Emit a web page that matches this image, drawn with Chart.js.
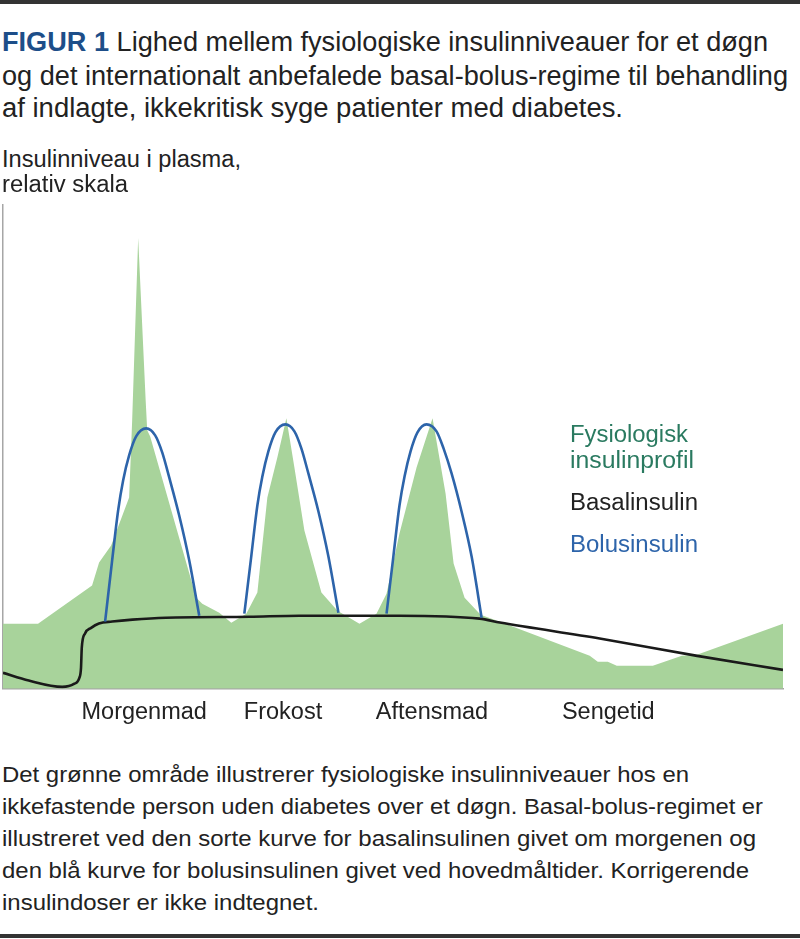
<!DOCTYPE html>
<html><head><meta charset="utf-8">
<script src="https://cdn.jsdelivr.net/npm/chart.js@4.4.1/dist/chart.umd.min.js"></script>
<style>
html,body{margin:0;padding:0;background:#fff;}
body{width:800px;height:939px;position:relative;overflow:hidden;font-family:"Liberation Sans",Arial,sans-serif;color:#222;}
.t{position:absolute;white-space:nowrap;line-height:1;transform-origin:0 0;}
.rule{position:absolute;left:0;width:800px;background:#333;}
#wrap{position:absolute;left:0;top:195px;width:800px;height:556px;}
</style></head>
<body>
<div class="rule" style="top:0;height:4px"></div>
<div class="rule" style="top:934px;height:4px"></div>
<div id="wrap"><canvas id="c"></canvas></div>
<script>
// ---- data (relative time 0-100, relative insulin level 0-100) ----
const greenX = [0, 4.49, 11.42, 12.32, 13.86, 15.40, 16.17, 16.56, 17.33, 18.29, 18.49, 18.87, 24.78, 25.55, 27.73, 29.27, 31.19, 32.61, 33.89, 35.17, 36.33, 37.36, 38.64, 40.82, 42.88, 45.70, 47.88, 49.17, 50.83, 53.02, 55.07, 56.74, 57.77, 59.18, 61.23, 64.06, 75.22, 76.25, 77.54, 78.69, 83.31, 87.03, 88.96, 100];
const greenY = [13.46, 13.46, 21.33, 26.09, 29.61, 36.23, 39.54, 55.49, 93.17, 59.63, 53.42, 52.17, 18.84, 17.60, 15.73, 13.66, 15.53, 19.88, 39.54, 47.83, 55.90, 45.76, 32.71, 19.88, 16.15, 13.46, 15.53, 19.67, 32.09, 45.76, 55.90, 40.37, 25.88, 18.84, 15.32, 13.66, 6.83, 5.59, 5.59, 4.76, 4.76, 6.83, 7.04, 13.46];

const basalX = [0, 3.3, 7.6, 9.1, 9.8, 10.0, 10.1, 10.5, 11.3, 12.3, 14.0, 16.6, 20.9, 31.6, 38.0, 50.8, 61.1, 63.7, 76.5, 89.0, 100];
const basalY = [3.3, 1.7, 0.4, 1.0, 2.3, 4.3, 8.5, 11.4, 12.6, 13.5, 13.9, 14.3, 14.7, 14.9, 15.1, 15.1, 14.5, 13.7, 10.4, 6.8, 3.9];

const bolus1X = [13.09, 13.99, 14.76, 15.40, 16.17, 17.07, 18.36, 19.51, 20.41, 21.31, 22.59, 23.88, 25.16];
const bolus1Y = [13.87, 26.50, 36.85, 43.06, 48.24, 52.17, 53.83, 52.38, 48.86, 43.69, 35.82, 26.50, 15.11];
const bolus2X = [30.94, 31.84, 32.61, 33.25, 34.02, 34.92, 36.20, 37.36, 38.25, 39.15, 40.44, 41.72, 43.00];
const bolus2Y = [15.53, 27.54, 37.89, 43.89, 49.07, 53.00, 54.66, 53.21, 49.69, 44.51, 36.65, 27.33, 15.73];
const bolus3X = [49.17, 50.06, 50.83, 51.48, 52.25, 53.14, 54.30, 55.58, 56.48, 57.51, 58.79, 60.08, 61.36];
const bolus3Y = [15.53, 27.54, 37.89, 43.89, 49.07, 53.00, 54.66, 53.21, 49.69, 44.51, 36.65, 27.33, 14.70];

const tickValues = [18.1, 35.9, 55.0, 77.6];
const tickLabels = ['Morgenmad', 'Frokost', 'Aftensmad', 'Sengetid'];

const seriesNames = ['Fysiologisk insulinprofil', 'Basalinsulin', 'Bolusinsulin'];

const zip = (xs, ys) => xs.map((x, i) => ({x: x, y: ys[i]}));

const GREEN = '#a8d39b', BLUE = '#2d64aa', BLACK = '#1a1a1a', AXIS = '#a6a6a6';
const FONT = '"Liberation Sans", Arial, sans-serif';

new Chart(document.getElementById('c'), {
  type: 'line',
  data: {
    datasets: [
      {label: seriesNames[2], data: zip(bolus1X, bolus1Y), borderColor: BLUE, borderWidth: 2.6, pointRadius: 0, fill: false, cubicInterpolationMode: 'monotone', order: 1},
      {label: seriesNames[2], data: zip(bolus2X, bolus2Y), borderColor: BLUE, borderWidth: 2.6, pointRadius: 0, fill: false, cubicInterpolationMode: 'monotone', order: 1},
      {label: seriesNames[2], data: zip(bolus3X, bolus3Y), borderColor: BLUE, borderWidth: 2.6, pointRadius: 0, fill: false, cubicInterpolationMode: 'monotone', order: 1},
      {label: seriesNames[1], data: zip(basalX, basalY), borderColor: BLACK, borderWidth: 2.6, pointRadius: 0, fill: false, cubicInterpolationMode: 'monotone', order: 2},
      {label: seriesNames[0], data: zip(greenX, greenY), borderWidth: 0, borderColor: GREEN, backgroundColor: GREEN, pointRadius: 0, fill: 'origin', tension: 0, order: 3}
    ]
  },
  options: {
    responsive: true,
    maintainAspectRatio: false,
    animation: false,
    events: [],
    layout: {padding: {left: 3, right: 17, top: 10, bottom: 14}},
    plugins: {legend: {display: false}, tooltip: {enabled: false}},
    scales: {
      x: {
        type: 'linear', min: 0, max: 100,
        afterBuildTicks: s => { s.ticks = tickValues.map(v => ({value: v})); },
        ticks: {autoSkip: false, maxRotation: 0, padding: 10, color: '#222',
          font: {family: FONT, size: 23.5},
          callback: (v) => tickLabels[tickValues.indexOf(v)]},
        grid: {display: false, drawTicks: false},
        border: {display: true, color: AXIS, width: 1.5}
      },
      y: {
        type: 'linear', min: 0, max: 100,
        ticks: {display: false},
        grid: {display: false, drawTicks: false},
        border: {display: true, color: AXIS, width: 1.5}
      }
    }
  }
});

// ---- text ----
function place(html, x, base, size, w, color) {
  const d = document.createElement('div');
  d.className = 't';
  d.style.left = x + 'px';
  d.style.top = (base - 0.8465 * size) + 'px';
  d.style.fontSize = size + 'px';
  if (color) d.style.color = color;
  d.innerHTML = html;
  document.body.appendChild(d);
  const nw = d.getBoundingClientRect().width;
  if (w) d.style.transform = 'scaleX(' + (w / nw) + ')';
}
const titleLines = [
  '<b style="color:#1d4e89">FIGUR 1</b> Lighed mellem fysiologiske insulinniveauer for et døgn',
  'og det internationalt anbefalede basal-bolus-regime til behandling',
  'af indlagte, ikkekritisk syge patienter med diabetes.'
];
const titleW = [766, 786, 621];
const titleBase = [52, 85.5, 118];
titleLines.forEach((t, i) => place(t, 2, titleBase[i], 27, titleW[i]));

const yTitle = ['Insulinniveau i plasma,', 'relativ skala'];
const yTitleW = [239, 126];
const yTitleBase = [167.5, 192.5];
yTitle.forEach((t, i) => place(t, 2, yTitleBase[i], 23.5, yTitleW[i]));

place('Fysiologisk', 570, 442.5, 23.5, 118, '#2a7a60');
place('insulinprofil', 570, 469, 23.5, 124, '#2a7a60');
place('Basalinsulin', 570, 511, 23.5, 128, '#222');
place('Bolusinsulin', 570, 553, 23.5, 128, BLUE);

const captionLines = [
  'Det grønne område illustrerer fysiologiske insulinniveauer hos en',
  'ikkefastende person uden diabetes over et døgn. Basal-bolus-regimet er',
  'illustreret ved den sorte kurve for basalinsulinen givet om morgenen og',
  'den blå kurve for bolusinsulinen givet ved hovedmåltider. Korrigerende',
  'insulindoser er ikke indtegnet.'
];
const captionW = [687, 761, 754, 747, 317];
const captionBase = [783, 815, 847, 879, 911];
captionLines.forEach((t, i) => place(t, 2, captionBase[i], 22.5, captionW[i]));
</script>
</body></html>
